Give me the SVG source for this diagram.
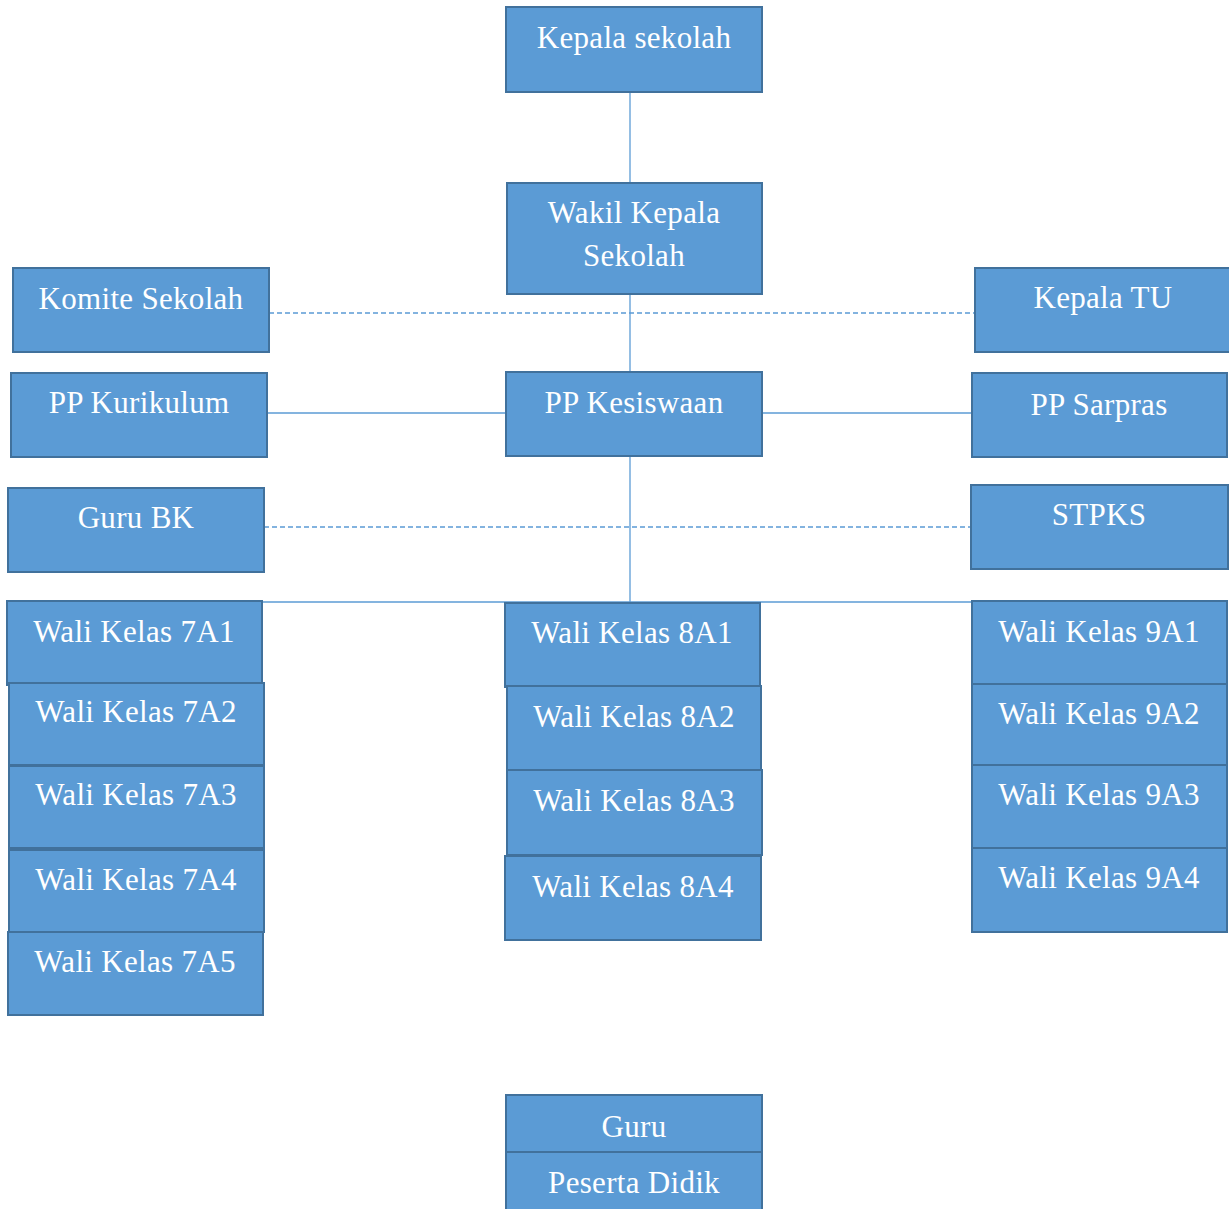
<svg xmlns="http://www.w3.org/2000/svg" width="1229" height="1209" viewBox="0 0 1229 1209">
<style>
.n rect{fill:#5B9BD5;stroke:#41719C;stroke-width:2}
.n text{fill:#fff;font-family:"Liberation Serif","Times New Roman",serif;font-size:31px;letter-spacing:0.3px;text-anchor:middle}
.c line{stroke:#5B9BD5;stroke-width:1.3;fill:none}
.c .d{stroke-dasharray:5 3}
</style>
<rect width="1229" height="1209" fill="#fff"/>
<g class="c" id="connectors">
<line x1="630" y1="92" x2="630" y2="183"/>
<line x1="630" y1="294" x2="630" y2="372"/>
<line x1="630" y1="456" x2="630" y2="602"/>
<line class="d" x1="269" y1="313" x2="975" y2="313"/>
<line x1="267" y1="413" x2="506" y2="413"/>
<line x1="762" y1="413" x2="972" y2="413"/>
<line class="d" x1="264" y1="527" x2="971" y2="527"/>
<line x1="262" y1="602" x2="972" y2="602"/>
</g>
<g class="n" id="kepala-sekolah"><rect x="506" y="7" width="256" height="85"/><text x="634" y="48">Kepala sekolah</text></g>
<g class="n" id="wakil"><rect x="507" y="183" width="255" height="111"/><text x="634" y="223">Wakil Kepala</text><text x="634" y="266">Sekolah</text></g>
<g class="n" id="komite"><rect x="13" y="268" width="256" height="84"/><text x="141" y="309">Komite Sekolah</text></g>
<g class="n" id="kepala-tu"><rect x="975" y="268" width="256" height="84"/><text x="1103" y="308">Kepala TU</text></g>
<g class="n" id="pp-kurikulum"><rect x="11" y="373" width="256" height="84"/><text x="139" y="413">PP Kurikulum</text></g>
<g class="n" id="pp-kesiswaan"><rect x="506" y="372" width="256" height="84"/><text x="634" y="413">PP Kesiswaan</text></g>
<g class="n" id="pp-sarpras"><rect x="972" y="373" width="255" height="84"/><text x="1099" y="415">PP Sarpras</text></g>
<g class="n" id="guru-bk"><rect x="8" y="488" width="256" height="84"/><text x="136" y="528">Guru BK</text></g>
<g class="n" id="stpks"><rect x="971" y="485" width="257" height="84"/><text x="1099" y="525">STPKS</text></g>
<g class="n" id="w7a1"><rect x="7" y="601" width="255" height="84"/><text x="134" y="642">Wali Kelas 7A1</text></g>
<g class="n" id="w7a2"><rect x="9" y="683" width="255" height="82"/><text x="136" y="722">Wali Kelas 7A2</text></g>
<g class="n" id="w7a3"><rect x="9" y="766" width="255" height="82"/><text x="136" y="805">Wali Kelas 7A3</text></g>
<g class="n" id="w7a4"><rect x="9" y="850" width="255" height="82"/><text x="136" y="890">Wali Kelas 7A4</text></g>
<g class="n" id="w7a5"><rect x="8" y="932" width="255" height="83"/><text x="135" y="972">Wali Kelas 7A5</text></g>
<g class="n" id="w8a1"><rect x="505" y="603" width="255" height="84"/><text x="632" y="643">Wali Kelas 8A1</text></g>
<g class="n" id="w8a2"><rect x="507" y="686" width="254" height="84"/><text x="634" y="727">Wali Kelas 8A2</text></g>
<g class="n" id="w8a3"><rect x="507" y="770" width="255" height="85"/><text x="634" y="811">Wali Kelas 8A3</text></g>
<g class="n" id="w8a4"><rect x="505" y="856" width="256" height="84"/><text x="633" y="897">Wali Kelas 8A4</text></g>
<g class="n" id="w9a1"><rect x="972" y="601" width="255" height="83"/><text x="1099" y="642">Wali Kelas 9A1</text></g>
<g class="n" id="w9a2"><rect x="972" y="684" width="255" height="81"/><text x="1099" y="724">Wali Kelas 9A2</text></g>
<g class="n" id="w9a3"><rect x="972" y="765" width="255" height="83"/><text x="1099" y="805">Wali Kelas 9A3</text></g>
<g class="n" id="w9a4"><rect x="972" y="848" width="255" height="84"/><text x="1099" y="888">Wali Kelas 9A4</text></g>
<g class="n" id="guru"><rect x="506" y="1095" width="256" height="57"/><text x="634" y="1137">Guru</text></g>
<g class="n" id="peserta"><rect x="506" y="1152" width="256" height="60"/><text x="634" y="1193">Peserta Didik</text></g>
</svg>
